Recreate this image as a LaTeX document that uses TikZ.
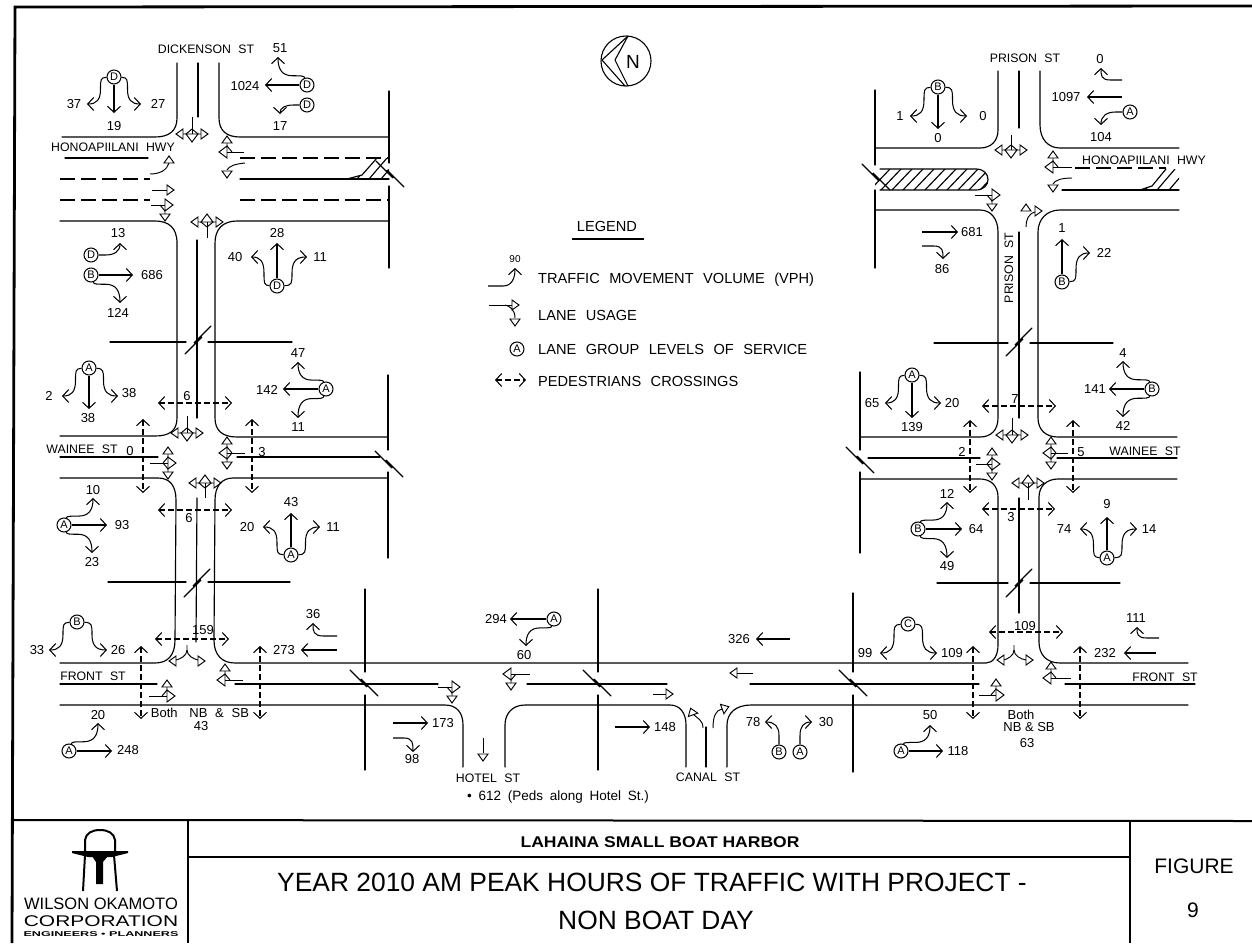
\documentclass[tikz,border=0pt]{standalone}
\usepackage{fontspec}
\setmainfont{Liberation Sans}
\usetikzlibrary{arrows.meta}
\newcounter{tn}
\tikzset{
  road/.style={line width=1.15pt,line cap=round},
  lanedash/.style={line width=1.15pt,dash pattern=on 15pt off 6pt},
  mv/.style={line width=1.05pt,-{Straight Barb[length=6pt,width=13pt,line width=1.05pt]}},
  ped/.style={line width=1.05pt,dash pattern=on 6pt off 3pt,{Straight Barb[length=6pt,width=13pt,line width=1.05pt]}-{Straight Barb[length=6pt,width=13pt,line width=1.05pt]}},
  lnw/.style={line width=.95pt},
  val/.style={inner sep=0pt,font=\fontsize{13}{13}\selectfont},
  nam/.style={inner sep=0pt,font={\fontsize{12.3}{12.3}\selectfont\spaceskip .6em\relax}},
  leg/.style={inner sep=0pt,anchor=west,font={\fontsize{14.6}{15}\selectfont\spaceskip .65em\relax}},
  los/.style={draw,circle,line width=1.05pt,minimum size=14pt,inner sep=0pt,font=\fontsize{11}{11}\selectfont,fill=white},
}
% text helpers
\newcommand\lb[3]{\stepcounter{tn}\node[val] (t\arabic{tn}) at (#1,#2) {#3};}
\newcommand\nm[4][0]{\stepcounter{tn}\node[nam,rotate=#1] (t\arabic{tn}) at (#2,#3) {#4};}
% LOS cluster
\newcommand\cl[5]{\begin{scope}[shift={(#2,#3)}]\node[los] (#1) at (0,0) {#4};\def\cn{#1}#5\end{scope}}
\newcommand\aV[2]{\draw[mv] (\cn) .. controls ({#1*.5},{#2*.02}) and ({#1*.5},{#2*.1}) .. ({#1*.5},{#2*.45}) .. controls ({#1*.5},{#2*.85}) and ({#1*.65},{#2}) .. (#1,#2);}
\newcommand\aH[2]{\draw[mv] (\cn) .. controls ({#1*.1},{#2*.33}) and ({#1*.2},{#2*.33}) .. ({#1*.5},{#2*.33}) .. controls ({#1*.85},{#2*.33}) and (#1,{#2*.55}) .. (#1,#2);}
\newcommand\aS[2]{\draw[mv] (\cn) -- (#1,#2);}
% arm that leaves sideways and ends vertically
\newcommand\aT[2]{\draw[mv] (\cn) -- ({#1*.5},0) .. controls ({#1*.8},0) and (#1,{#2*.3}) .. (#1,#2);}
% arm that leaves vertically and ends sideways
\newcommand\aU[2]{\draw[mv] (\cn) -- (0,{#2*.55}) .. controls (0,{#2*.85}) and ({#1*.3},#2) .. (#1,#2);}
% free movements
\newcommand\st[4]{\draw[mv] (#1,#2) -- (#3,#4);}
\newcommand\hk[4]{\draw[mv] (#1,#2) -- ({#3+(#1-#3)*.45},#2) .. controls (#3,#2) and (#3,{#4+(#2-#4)*.6}) .. (#3,#4);}
% lane symbols
\newcommand\tS{\draw[lnw] (0,-6)--(8,0)--(0,6)--cycle;}
\newcommand\tL{\draw[lnw] (-5,0)--(0,-6)--(0,-9); \draw[lnw] (-5,-9)--(5,-9)--(0,-16)--cycle;}
\newcommand\tR{\draw[lnw] (-5,0)--(0,6)--(0,9); \draw[lnw] (-5,9)--(5,9)--(0,16)--cycle;}
\newcommand\lane[5]{\begin{scope}[shift={(#1,#2)},rotate=#3]\draw[lnw] ({-#4},0)--(0,0);#5\end{scope}}
\newcommand\tri[3]{\begin{scope}[shift={(#1,#2)},rotate=#3]\draw[lnw] (-3,-5)--(4,0)--(-3,5)--cycle;\end{scope}}
\newcommand\brk[3]{\begin{scope}[shift={(#1,#2)},rotate=#3]\draw[road] (-14,-13)--(3,4)--(-3,-4)--(14,13);\end{scope}}
\begin{document}
\begin{tikzpicture}[x=1pt,y=-1pt]
\useasboundingbox (0,0) rectangle (1252,943);
\fill[white] (0,0) rectangle (1252,943);
% frame
\draw[line width=2.8pt] (1252,6)--(15,7)--(12,943);
\draw[line width=2pt] (12,820)--(1252,821);
\draw[line width=1.8pt] (188,820)--(188,943);
\draw[line width=1.8pt] (1130,821)--(1130,943);
\draw[line width=1.1pt] (188,857)--(1130,857);
% ---------- roads, left side
\draw[road] (177,63)--(177,118) .. controls (177,131) and (169,137) .. (155,137)--(62,137);
\draw[road] (198,63)--(198,117);
\draw[road] (219,63)--(219,118) .. controls (219,131) and (227,137) .. (240,137)--(389,137);
\draw[road] (65,158)--(148,158);
\draw[lanedash] (60,179)--(150,179);
\draw[lanedash] (60,200)--(150,200);
\draw[road] (60,221)--(155,221) .. controls (169,221) and (177,228) .. (177,243)--(177,418) .. controls (177,431) and (169,436) .. (155,436)--(60,436);
\draw[lanedash] (240,158)--(389,158);
\draw[road] (240,179)--(389,179);
\draw[lanedash] (240,200)--(389,200);
\draw[road] (389,221)--(237,221) .. controls (223,221) and (215,229) .. (215,243)--(215,418) .. controls (215,431) and (223,437) .. (237,437)--(388,437);
\draw[road] (197,240)--(197,418);
\draw[road] (389,91)--(389,163);
\draw[road] (389,186)--(389,268);
\begin{scope}
\clip (347,179)--(362,175)--(377,158)--(389,158)--(389,179)--cycle;
\foreach \q in {345,357,369,381}{\draw[road] (\q,179)--({\q+18},158);}
\end{scope}
\draw[road] (347,179)--(362,175)--(377,158);
\brk{390}{174}{0}
\draw[road] (110,342)--(186,342);
\draw[road] (208,342)--(292,342);
\brk{198}{340}{90}
\draw[road] (60,457)--(158,457);
\draw[road] (237,457)--(380,457);
\draw[road] (60,478)--(158,478) .. controls (170,478) and (176,486) .. (176,500)--(175,640) .. controls (175,655) and (168,663) .. (155,663)--(60,663);
\draw[road] (388,478)--(233,478) .. controls (222,478) and (215,486) .. (215,500)--(214,640) .. controls (214,655) and (222,663) .. (235,663)--(986,663) .. controls (993,663) and (998,656) .. (998,645)--(998,497) .. controls (998,486) and (991,479) .. (980,479)--(860,479);
\draw[road] (197,498)--(196,642);
\draw[road] (388,375)--(388,450);
\draw[road] (388,472)--(388,558);
\brk{389}{464}{0}
\draw[road] (108,582)--(186,582);
\draw[road] (208,582)--(290,582);
\brk{197}{583}{90}
% Front St
\draw[road] (60,705)--(445,705) .. controls (457,705) and (463,713) .. (463,725)--(463,767);
\draw[road] (505,767)--(505,725) .. controls (505,713) and (513,705) .. (525,705)--(670,705) .. controls (680,705) and (686,713) .. (686,725)--(686,767);
\draw[road] (727,767)--(727,725) .. controls (727,713) and (736,705) .. (751,705)--(1188,705);
\draw[road] (706,727)--(706,767);
\draw[road] (60,684)--(157,684);
\draw[road] (235,684)--(438,684);
\draw[road] (527,684)--(667,684);
\draw[road] (750,684)--(979,684);
\draw[road] (1065,684)--(1195,684);
\draw[road] (365,589)--(365,672);
\draw[road] (365,695)--(365,770);
\draw[road] (598,589)--(598,672);
\draw[road] (598,695)--(598,770);
\draw[road] (853,593)--(853,672);
\draw[road] (853,695)--(853,772);
\brk{364}{683}{0}
\brk{597}{683}{0}
\brk{853}{683}{0}
% ---------- roads, right side
\draw[road] (1188,663)--(1060,663) .. controls (1047,663) and (1039,655) .. (1039,642)--(1039,497) .. controls (1039,486) and (1047,479) .. (1058,479)--(1177,479);
\draw[road] (860,437)--(980,437) .. controls (991,437) and (998,430) .. (998,418)--(998,232) .. controls (998,219) and (991,210) .. (980,210)--(875,210);
\draw[road] (1177,437)--(1058,437) .. controls (1046,437) and (1038,430) .. (1038,418)--(1038,232) .. controls (1038,219) and (1047,210) .. (1060,210)--(1179,210);
\draw[road] (868,458)--(980,458);
\draw[road] (1057,458)--(1177,458);
\draw[road] (1019,232)--(1019,418);
\draw[road] (1019,498)--(1019,613);
\draw[road] (860,372)--(860,450);
\draw[road] (860,472)--(860,553);
\brk{860}{460}{0}
\draw[road] (934,343)--(1008,343);
\draw[road] (1030,343)--(1113,343);
\brk{1019}{342}{90}
\draw[road] (937,583)--(1008,583);
\draw[road] (1030,583)--(1120,583);
\brk{1019}{583}{90}
\draw[road] (998,71)--(998,130) .. controls (998,141) and (991,148) .. (980,148)--(875,148);
\draw[road] (1019,71)--(1019,128);
\draw[road] (1040,71)--(1040,125) .. controls (1040,139) and (1048,148) .. (1060,148)--(1179,148);
\draw[road] (875,90)--(875,165);
\draw[road] (875,190)--(875,268);
\draw[road] (880,169)--(976,169) .. controls (992,169) and (992,190) .. (976,190)--(880,190);
\begin{scope}
\clip (875,169)--(976,169) .. controls (992,169) and (992,190) .. (976,190)--(875,190)--cycle;
\foreach \q in {870,881,...,992}{\draw[road] (\q,190)--({\q+20},169);}
\end{scope}
\brk{876}{177}{0}
\draw[lanedash] (1075,168)--(1166,168);
\draw[road] (1062,190)--(1179,190);
\begin{scope}
\clip (1140,190)--(1152,186)--(1166,169)--(1179,169)--(1179,190)--cycle;
\foreach \q in {1145,1157,1169,1181}{\draw[road] (\q,190)--({\q+18},169);}
\end{scope}
\draw[road] (1140,190)--(1152,186)--(1166,169);
% ---------- street names
\nm{206}{49}{DICKENSON ST}
\nm{113}{147}{HONOAPIILANI HWY}
\nm{82}{449}{WAINEE ST}
\nm{93}{676}{FRONT ST}
\nm{488}{778}{HOTEL ST}
\node[inner sep=0pt,font={\fontsize{13.5}{14}\selectfont\spaceskip .5em\relax}] (peds) at (558,797) {\textbullet\ 612 (Peds along Hotel St.)};
\nm{708}{777}{CANAL ST}
\nm{1025}{58}{PRISON ST}
\nm{1144}{160}{HONOAPIILANI HWY}
\nm[90]{1009}{268}{PRISON ST}
\nm{1145}{451}{WAINEE ST}
\nm{1165}{677}{FRONT ST}
% ---------- lane usage symbols
\lane{192}{134}{270}{17}{\tS\tL\tR}
\lane{227}{152}{180}{17}{\tS\tR}
\draw[lnw] (245,163) .. controls (235,164) and (229,166) .. (227,170);
\tri{227}{174}{270}
\draw[lnw] (150,174) .. controls (160,174) and (167,170) .. (169,163);
\tri{169}{160}{90}
\draw[lnw] (152,190)--(167,190);
\tri{170}{190}{0}
\lane{165}{205}{0}{14}{\tS\tR}
\lane{207}{222}{90}{16}{\tS\tL\tR}
\lane{187}{433}{270}{17}{\tS\tL\tR}
\lane{227}{453}{180}{18}{\tS\tL\tR}
\lane{168}{463}{0}{18}{\tS\tL\tR}
\lane{205}{483}{90}{15}{\tS\tL\tR}
\draw[lnw] (187,645) -- (187,650) .. controls (187,656) and (180,659) .. (176,660);
\draw[lnw] (187,650) .. controls (187,656) and (194,659) .. (198,660);
\tri{173}{661}{180}
\tri{201}{661}{0}
\lane{225}{680}{180}{18}{\tS\tR}
\lane{167}{696}{0}{18}{\tS\tL}
\lane{452}{687}{0}{14}{\tS\tR}
\draw[lnw] (483,738)--(483,753);
\tri{483}{757}{270}
\lane{511}{674}{180}{19}{\tS\tL}
\draw[lnw] (653,694)--(666,694);
\tri{669}{694}{0}
\draw[lnw] (703,728) .. controls (703,720) and (697,718) .. (694,715);
\tri{692}{712}{110}
\draw[lnw] (713,728) .. controls (713,716) and (716,710) .. (722,709);
\tri{725}{708}{20}
\draw[lnw] (753,673)--(737,673);
\tri{734}{673}{180}
\draw[lnw] (1014,645) -- (1014,650) .. controls (1014,656) and (1007,659) .. (1004,660);
\draw[lnw] (1014,650) .. controls (1014,656) and (1021,659) .. (1026,660);
\tri{1001}{660}{180}
\tri{1029}{660}{0}
\lane{1051}{678}{180}{20}{\tS\tR}
\lane{996}{695}{0}{17}{\tS\tL}
\lane{1012}{435}{270}{17}{\tS\tL\tR}
\lane{1051}{453}{180}{17}{\tS\tL\tR}
\lane{992}{464}{0}{16}{\tS\tL\tR}
\lane{1028}{483}{90}{17}{\tS\tL\tR}
\lane{1011}{150}{270}{15}{\tS\tL\tR}
\lane{1053}{167}{180}{19}{\tS\tR}
\draw[lnw] (1072,178) .. controls (1062,178) and (1055,180) .. (1053,184);
\tri{1053}{188}{270}
\lane{992}{195}{0}{17}{\tS\tR}
\draw[lnw] (1026,227) .. controls (1026,220) and (1028,214) .. (1035,212);
\tri{1026}{208}{90}
\tri{1038}{211}{0}
% ---------- pedestrian crossings
\draw[ped] (158,403)--(232,403);
\draw[ped] (158,510)--(232,510);
\draw[ped] (143,419)--(143,493);
\draw[ped] (252,419)--(252,493);
\draw[ped] (155,639)--(229,639);
\draw[ped] (141,646)--(141,719);
\draw[ped] (260,646)--(260,719);
\draw[ped] (982,406)--(1056,406);
\draw[ped] (982,509)--(1055,509);
\draw[ped] (970,420)--(970,493);
\draw[ped] (1073,420)--(1073,493);
\draw[ped] (989,632)--(1063,632);
\draw[ped] (973,646)--(973,719);
\draw[ped] (1080,646)--(1080,719);
\lb{187}{396}{6}\lb{189}{518}{6}\lb{130}{451}{0}\lb{262}{452}{3}\lb{203}{630}{159}
\lb{1015}{399}{7}\lb{1011}{517}{3}\lb{962}{452}{2}\lb{1081}{452}{5}\lb{1025}{626}{109}
\lb{200}{713}{Both\hspace{.9em}NB\hspace{.6em}\&\hspace{.6em}SB}\lb{201}{726}{43}
\lb{1021}{715}{Both}\lb{1029}{727}{NB \& SB}\lb{1027}{743}{63}
% ---------- LOS clusters and volumes
\cl{c1}{114}{77}{D}{\aV{-27}{27}\aS{0}{36}\aV{27}{27}}
\lb{74}{104}{37}\lb{158}{104}{27}\lb{114}{126}{19}
\cl{c2}{307}{85}{D}{\aH{-29}{-28}\aS{-42}{0}}
\lb{280}{48}{51}\lb{245}{86}{1024}
\cl{c3}{307}{105}{D}{\aT{-27}{9}}
\lb{280}{126}{17}
\cl{c4}{91}{255}{D}{\aT{29}{-12}}
\lb{118}{233}{13}
\cl{c5}{91}{275}{B}{\aS{42}{0}\aH{29}{28}}
\lb{152}{275}{686}\lb{118}{313}{124}
\cl{c6}{277}{286}{D}{\aV{-26}{-29}\aS{0}{-43}\aV{30}{-29}}
\lb{277}{233}{28}\lb{235}{257}{40}\lb{320}{257}{11}
\cl{c7}{89}{368}{A}{\aV{-27}{28}\aS{0}{41}\aV{29}{28}}
\lb{49}{396}{2}\lb{129}{393}{38}\lb{88}{418}{38}
\cl{c8}{326}{389}{A}{\aH{-28}{-27}\aS{-43}{0}\aH{-28}{29}}
\lb{298}{353}{47}\lb{267}{390}{142}\lb{298}{427}{11}
\cl{c9}{64}{525}{A}{\aH{29}{-27}\aS{43}{0}\aH{28}{28}}
\lb{93}{490}{10}\lb{122}{525}{93}\lb{92}{562}{23}
\cl{c10}{291}{555}{A}{\aV{-28}{-28}\aS{0}{-42}\aV{29}{-28}}
\lb{291}{502}{43}\lb{247}{527}{20}\lb{333}{527}{11}
\cl{c11}{77}{622}{B}{\aV{-28}{28}\aV{30}{28}}
\lb{37}{650}{33}\lb{118}{650}{26}
\hk{337}{636}{313}{623}\lb{313}{614}{36}
\st{337}{650}{301}{650}\lb{284}{650}{273}
\cl{c12}{69}{751}{A}{\aH{29}{-28}\aS{43}{0}}
\lb{98}{715}{20}\lb{128}{750}{248}
\st{393}{723}{428}{723}\lb{443}{723}{173}
\hk{393}{738}{413}{752}\lb{412}{759}{98}
\cl{c13}{554}{619}{A}{\aS{-44}{0}\aH{-28}{27}}
\lb{496}{619}{294}\lb{524}{655}{60}
\st{790}{639}{756}{639}\lb{739}{639}{326}
\st{615}{727}{650}{727}\lb{665}{727}{148}
\cl{c14}{779}{752}{B}{\aU{-14}{-30}}
\cl{c15}{800}{752}{A}{\aU{12}{-30}}
\lb{753}{722}{78}\lb{826}{722}{30}
\cl{c16}{901}{751}{A}{\aH{29}{-26}\aS{42}{0}}
\lb{930}{715}{50}\lb{958}{751}{118}
\cl{c17}{908}{624}{C}{\aV{-28}{29}\aV{29}{29}}
\lb{865}{653}{99}\lb{952}{653}{109}
\hk{1159}{638}{1137}{627}\lb{1136}{618}{111}
\st{1156}{653}{1124}{653}\lb{1105}{653}{232}
\cl{c18}{938}{87}{B}{\aV{-28}{29}\aS{0}{42}\aV{29}{29}}
\lb{900}{116}{1}\lb{983}{116}{0}\lb{938}{138}{0}
\hk{1122}{80}{1101}{68}\lb{1100}{59}{0}
\st{1122}{97}{1087}{97}\lb{1066}{97}{1097}
\cl{c19}{1130}{112}{A}{\aT{-29}{13}}
\lb{1101}{137}{104}
\st{922}{232}{958}{232}\lb{972}{232}{681}
\hk{922}{246}{943}{259}\lb{942}{269}{86}
\cl{c20}{1062}{282}{B}{\aS{0}{-43}\aV{28}{-29}}
\lb{1062}{228}{1}\lb{1104}{253}{22}
\cl{c21}{912}{375}{A}{\aV{-27}{28}\aS{0}{43}\aV{29}{28}}
\lb{872}{403}{65}\lb{952}{403}{20}\lb{912}{427}{139}
\cl{c22}{1152}{389}{B}{\aH{-29}{-28}\aS{-43}{0}\aH{-29}{28}}
\lb{1123}{353}{4}\lb{1095}{389}{141}\lb{1123}{426}{42}
\cl{c23}{918}{529}{B}{\aH{29}{-27}\aS{44}{0}\aH{29}{29}}
\lb{947}{494}{12}\lb{976}{529}{64}\lb{947}{566}{49}
\cl{c24}{1107}{558}{A}{\aV{-27}{-29}\aS{0}{-41}\aV{30}{-29}}
\lb{1107}{504}{9}\lb{1064}{529}{74}\lb{1149}{529}{14}
% ---------- north arrow
\node[draw,circle,line width=1.1pt,minimum size=50pt,inner sep=0pt] (north) at (626,61) {};
\draw[line width=1.1pt,line join=round] (628,36)--(602,60)--(625,86);
\draw[line width=1.1pt,line join=round] (628,36)--(615,60)--(628,86);
\node[inner sep=0pt,font=\fontsize{19}{19}\selectfont] (northn) at (633,62) {N};
% ---------- legend
\node[leg,anchor=center] (lg0) at (607,226) {LEGEND};
\draw[line width=1.1pt] (572,239)--(644,239);
\node[inner sep=0pt,font=\fontsize{10}{10}\selectfont] (lg1) at (515,259) {90};
\draw[mv] (488,286)--(503,286) .. controls (512,286) and (515,278) .. (515,268);
\node[leg] (lg2) at (538,280) {TRAFFIC MOVEMENT VOLUME (VPH)};
\draw[lnw] (489,305)--(512,305);
\tri{515}{305}{0}
\draw[lnw] (505,305) .. controls (510,306) and (515,310) .. (515,318);
\tri{515}{322}{270}
\node[leg] (lg3) at (538,315) {LANE USAGE};
\node[los] (lg4) at (517,349) {A};
\node[leg] (lg5) at (538,349) {LANE GROUP LEVELS OF SERVICE};
\draw[ped] (495,380)--(526,380);
\node[leg] (lg6) at (538,381) {PEDESTRIANS CROSSINGS};
% ---------- title block
\node[inner sep=0pt,font=\bfseries\fontsize{15.5}{16}\selectfont,xscale=1.13] (ti1) at (660,842) {LAHAINA SMALL BOAT HARBOR};
\node[inner sep=0pt,font=\fontsize{26.4}{27}\selectfont] (ti2) at (652,882) {YEAR 2010 AM PEAK HOURS OF TRAFFIC WITH PROJECT -};
\node[inner sep=0pt,font=\fontsize{26.4}{27}\selectfont] (ti3) at (656,920) {NON BOAT DAY};
\node[inner sep=0pt,font=\fontsize{21}{21}\selectfont] (ti4) at (1194,866) {FIGURE};
\node[inner sep=0pt,font=\fontsize{21}{21}\selectfont] (ti5) at (1193,910) {9};
% logo
\draw[line width=2pt] (85,852)--(85,840) .. controls (86,833) and (92,830) .. (100,830) .. controls (108,830) and (114,833) .. (115,840)--(115,852);
\fill (72,851)--(128,851)--(128,853)--(112,857)--(88,857)--(72,853)--cycle;
\draw[line width=2pt] (85,855)--(83,891);
\draw[line width=2pt] (114,855)--(117,891);
\fill (92,856)--(108,856)--(103,862)--(103,884)--(96,884)--(96,862)--cycle;
\node[inner sep=0pt,font=\fontsize{16.5}{17}\selectfont] (lo1) at (101,904) {WILSON OKAMOTO};
\node[inner sep=0pt,font=\fontsize{15.5}{16}\selectfont,xscale=1.35] (lo2) at (101,921) {CORPORATION};
\node[inner sep=0pt,font=\bfseries\fontsize{7}{7}\selectfont,xscale=1.8] (lo3) at (101,934) {ENGINEERS • PLANNERS};
\end{tikzpicture}
\end{document}
